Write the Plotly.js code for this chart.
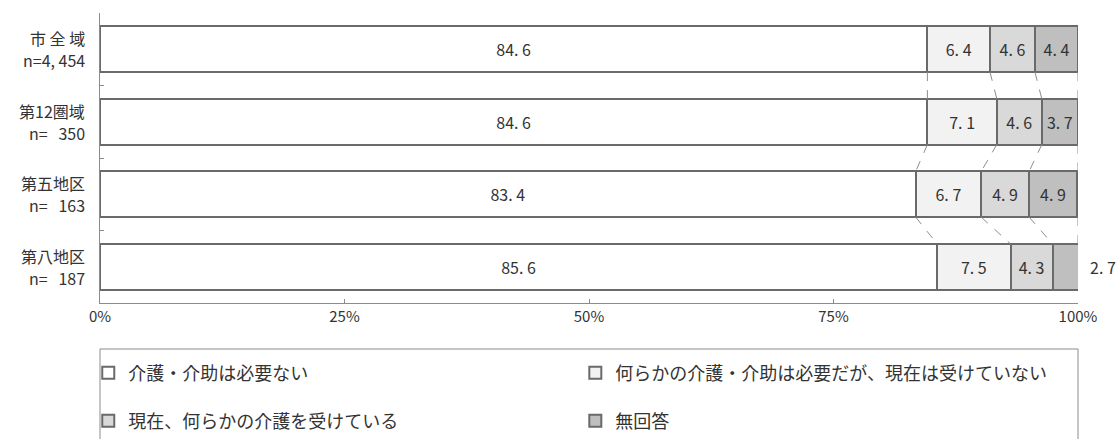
<!DOCTYPE html>
<html>
<head>
<meta charset="utf-8">
<script src="https://cdn.plot.ly/plotly-3.0.1.min.js"></script>
<style>body{margin:0;background:#fff}</style>
</head>
<body>
<div id="chart" style="width:1117px;height:439px"></div>
<script>
// 介護・介助の必要性（地区別）
const areas = ['市 全 域', '第12圏域', '第五地区', '第八地区'];
const sampleSizes = ['n=4, 454', 'n=\u00a0\u00a0\u00a0350', 'n=\u00a0\u00a0\u00a0163', 'n=\u00a0\u00a0\u00a0187'];
const seriesNames = [
    '介護・介助は必要ない',
    '何らかの介護・介助は必要だが、現在は受けていない',
    '現在、何らかの介護を受けている',
    '無回答'
];
const noNeed = [84.6, 84.6, 83.4, 85.6];
const needNotReceiving = [6.4, 7.1, 6.7, 7.5];
const receiving = [4.6, 4.6, 4.9, 4.3];
const noAnswer = [4.4, 3.7, 4.9, 2.7];
const xTicks = [0, 25, 50, 75, 100];

const seriesValues = [noNeed, needNotReceiving, receiving, noAnswer];
const fills = ['#ffffff', '#f2f2f2', '#d9d9d9', '#bfbfbf'];
const legendIds = ['legend', 'legend2', 'legend3', 'legend4'];
const fuente = '"Noto Sans CJK JP", "Noto Sans", sans-serif';
const gris = '#6a6a6a';
const barW = 0.63;

function etiqueta(v) {
    return v.toFixed(1).replace('.', '. ');
}

const anotaciones = [];
// nombres de las categorias en dos lineas (nombre / n)
areas.forEach((a, i) => {
    [[a, 11], [sampleSizes[i], -11]].forEach(([txt, desp]) => {
        anotaciones.push({
            x: -0.013, xref: 'paper', y: a, yref: 'y',
            text: txt, showarrow: false, xanchor: 'right', yshift: desp,
            font: { family: fuente, size: 16, color: '#333' }
        });
    });
});

// el segmento demasiado estrecho lleva su valor fuera de la barra
const trazas = seriesValues.map((vals, k) => {
    const ultimo = k === seriesValues.length - 1;
    const textos = vals.map((v, i) => {
        if (ultimo && v < 3) {
            let total = 0;
            seriesValues.forEach(s => total += s[i]);
            anotaciones.push({
                x: Math.min(total, 100), y: areas[i], xref: 'x', yref: 'y',
                text: etiqueta(v), showarrow: false,
                xanchor: 'left', xshift: 10,
                font: { family: fuente, size: 16, color: '#333' }
            });
            return '';
        }
        return etiqueta(v);
    });
    return {
        type: 'bar',
        orientation: 'h',
        name: seriesNames[k],
        y: areas,
        x: vals,
        width: barW,
        legend: legendIds[k],
        marker: { color: fills[k], line: { color: gris, width: 2 } },
        text: textos,
        textposition: 'inside',
        insidetextanchor: 'middle',
        constraintext: 'none',
        textangle: 0,
        textfont: { family: fuente, size: 16, color: '#333' },
        hoverinfo: 'skip'
    };
});

// lineas discontinuas entre barras
const formas = [];
for (let i = 0; i < areas.length - 1; i++) {
    let acumA = 0, acumB = 0;
    for (let k = 0; k < seriesValues.length; k++) {
        acumA += seriesValues[k][i];
        acumB += seriesValues[k][i + 1];
        let xa = k === seriesValues.length - 1 ? 100 : acumA;
        let xb = k === seriesValues.length - 1 ? 100 : acumB;
        formas.push({
            type: 'line', xref: 'x', yref: 'y',
            x0: xa, y0: i + barW / 2, x1: xb, y1: i + 1 - barW / 2,
            line: { color: '#8c8c8c', width: 1, dash: 'dash' }
        });
    }
}
// marco de la leyenda
formas.push({
    type: 'rect', xref: 'paper', yref: 'paper',
    x0: 0, x1: 1, y0: -0.55, y1: -0.1586,
    line: { color: '#8c8c8c', width: 1 }
});

const posLeyenda = [[-0.012, -0.2414], [0.486, -0.2414], [-0.012, -0.407], [0.486, -0.407]];
const layout = {
    width: 1117,
    height: 439,
    margin: { l: 100, r: 39, t: 13, b: 136, autoexpand: false },
    barmode: 'stack',
    paper_bgcolor: '#fff',
    plot_bgcolor: '#fff',
    font: { family: fuente, size: 16, color: '#333' },
    xaxis: {
        range: [0, 100],
        tickvals: xTicks,
        ticktext: xTicks.map(t => t + '%'),
        showgrid: false,
        zeroline: false,
        showline: true,
        linecolor: '#8c8c8c',
        linewidth: 1,
        ticks: 'inside',
        ticklen: 4,
        tickcolor: '#8c8c8c',
        tickfont: { family: fuente, size: 15, color: '#333' },
        fixedrange: true
    },
    yaxis: {
        autorange: 'reversed',
        showgrid: false,
        zeroline: false,
        showline: true,
        linecolor: '#8c8c8c',
        linewidth: 1,
        ticks: 'inside',
        tickson: 'boundaries',
        ticklen: 4,
        tickcolor: '#8c8c8c',
        showticklabels: false,
        fixedrange: true
    },
    shapes: formas,
    annotations: anotaciones,
    showlegend: true
};
legendIds.forEach((id, k) => {
    layout[id] = {
        x: posLeyenda[k][0], y: posLeyenda[k][1],
        xanchor: 'left', yanchor: 'middle',
        xref: 'paper', yref: 'paper',
        bgcolor: 'rgba(0,0,0,0)', borderwidth: 0,
        itemclick: false, itemdoubleclick: false,
        font: { family: fuente, size: 18, color: '#333' }
    };
});

Plotly.newPlot('chart', trazas, layout, { displayModeBar: false, staticPlot: true });
</script>
</body>
</html>
